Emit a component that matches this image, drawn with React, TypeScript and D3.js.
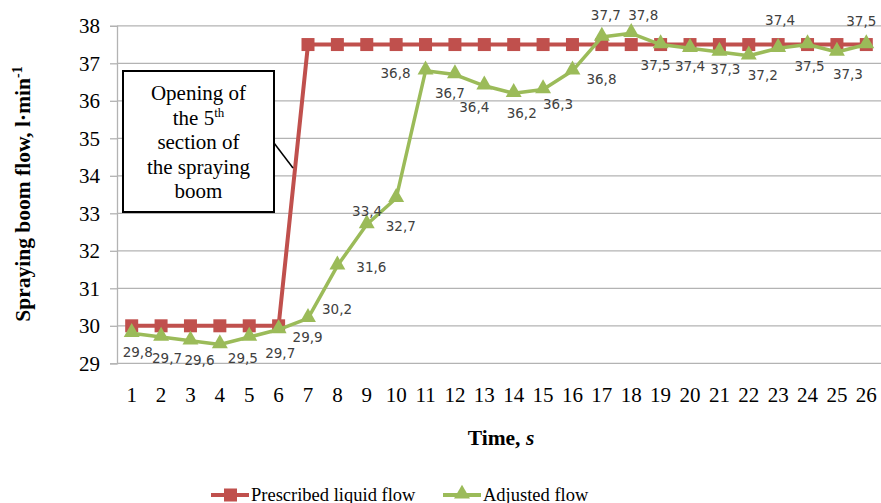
import * as d3 from "d3"
import { useRef, useEffect } from "react"

// time, s
const seconds = d3.range(1, 27)
// prescribed liquid flow, l/min
const prescribed = [30, 30, 30, 30, 30, 30, 37.5, 37.5, 37.5, 37.5, 37.5, 37.5, 37.5, 37.5, 37.5, 37.5, 37.5, 37.5, 37.5, 37.5, 37.5, 37.5, 37.5, 37.5, 37.5, 37.5]
// adjusted flow, l/min
const adjusted = [29.8, 29.7, 29.6, 29.5, 29.7, 29.9, 30.2, 31.6, 32.7, 33.4, 36.8, 36.7, 36.4, 36.2, 36.3, 36.8, 37.7, 37.8, 37.5, 37.4, 37.3, 37.2, 37.4, 37.5, 37.3, 37.5]
const yTicks = [29, 30, 31, 32, 33, 34, 35, 36, 37, 38]
const annotationLines = ["Opening of", "the 5|th", "section of", "the spraying", "boom"]

// where each data label of the adjusted flow sits, relative to its point
const labelOffsets: [number, number][] = [
  [6, 19], [6, 21], [9, 19], [23, 14], [31, 16], [29, 8], [29, -9], [34, 1], [34, 2], [-29, 13],
  [-30, 2], [-5, 19], [-10, 21], [8, 20], [15, 15], [29, 8], [4, -22], [12, -18], [-5, 21], [0, 18],
  [6, 17], [14, 19], [2, -28], [2, 22], [11, 22], [-5, -23],
]

const RED = "#C0504D"
const GREEN = "#9BBB59"
const GRID = "#B3B3B3"
const SERIF = "'Liberation Serif', 'Times New Roman', serif"
const SANS = "'DejaVu Sans', Verdana, sans-serif"

export default function App() {
  const svgRef = useRef<SVGSVGElement>(null)

  useEffect(() => {
    if (!svgRef.current) return
    const width = 881
    const height = 503
    const margin = { top: 26, right: 0, bottom: 140, left: 117 }

    const svg = d3.select(svgRef.current)
    svg.selectAll("*").remove()
    svg.attr("width", width).attr("height", height)

    const x = d3
      .scaleBand<number>()
      .domain(seconds)
      .range([margin.left, width - margin.right])
    const cx = (d: number) => (x(d) || 0) + x.bandwidth() / 2

    const y = d3
      .scaleLinear()
      .domain([29, 38])
      .range([height - margin.bottom + 0.3, margin.top - 0.2])

    // grid
    svg
      .append("g")
      .selectAll("line")
      .data(yTicks)
      .enter()
      .append("line")
      .attr("x1", margin.left)
      .attr("x2", width)
      .attr("y1", (d) => y(d))
      .attr("y2", (d) => y(d))
      .attr("stroke", GRID)
      .attr("stroke-width", 1.3)

    // y axis
    svg
      .append("g")
      .attr("transform", `translate(${margin.left},0)`)
      .call(d3.axisLeft(y).tickValues(yTicks).tickSize(7).tickPadding(10).tickFormat(d3.format("d")))
      .call((g) => g.select(".domain").attr("stroke", GRID).attr("stroke-width", 1.3))
      .call((g) => g.selectAll(".tick line").attr("stroke", GRID).attr("stroke-width", 1.3))
      .call((g) =>
        g
          .selectAll("text")
          .style("font-size", "21px")
          .style("font-family", SERIF)
          .style("fill", "#000"),
      )

    // x axis labels
    svg
      .append("g")
      .attr("transform", `translate(0,${y(29)})`)
      .call(d3.axisBottom(x).tickSize(0).tickPadding(24))
      .call((g) => g.select(".domain").remove())
      .call((g) =>
        g
          .selectAll("text")
          .style("font-size", "21px")
          .style("font-family", SERIF)
          .style("fill", "#000"),
      )

    // axis titles
    const yTitle = svg
      .append("text")
      .attr("transform", "translate(30,194) rotate(-90)")
      .attr("text-anchor", "middle")
      .style("font-family", SERIF)
      .style("font-size", "21.5px")
      .style("font-weight", "bold")
    yTitle.append("tspan").text("Spraying boom flow, l·min")
    yTitle.append("tspan").attr("dy", -8).style("font-size", "14px").text("-1")

    const xTitle = svg
      .append("text")
      .attr("x", 501)
      .attr("y", 445)
      .attr("text-anchor", "middle")
      .style("font-family", SERIF)
      .style("font-size", "21.5px")
      .style("font-weight", "bold")
    xTitle.append("tspan").text("Time, ")
    xTitle.append("tspan").style("font-style", "italic").text("s")

    // prescribed flow
    const line = d3
      .line<number>()
      .x((_, i) => cx(seconds[i]))
      .y((d) => y(d))

    svg
      .append("path")
      .datum(prescribed)
      .attr("fill", "none")
      .attr("stroke", RED)
      .attr("stroke-width", 4)
      .attr("d", line)

    svg
      .append("g")
      .selectAll("rect")
      .data(prescribed)
      .enter()
      .append("rect")
      .attr("x", (_, i) => cx(seconds[i]) - 6.5)
      .attr("y", (d) => y(d) - 6.5)
      .attr("width", 13)
      .attr("height", 13)
      .attr("fill", RED)

    // adjusted flow
    svg
      .append("path")
      .datum(adjusted)
      .attr("fill", "none")
      .attr("stroke", GREEN)
      .attr("stroke-width", 3.5)
      .attr("stroke-linejoin", "round")
      .attr("d", line)

    const tri = d3.symbol().type(d3.symbolTriangle).size(110)
    svg
      .append("g")
      .selectAll("path")
      .data(adjusted)
      .enter()
      .append("path")
      .attr("d", tri)
      .attr("transform", (d, i) => `translate(${cx(seconds[i])},${y(d) - 1})`)
      .attr("fill", GREEN)

    svg
      .append("g")
      .selectAll("text")
      .data(adjusted)
      .enter()
      .append("text")
      .attr("x", (_, i) => cx(seconds[i]) + labelOffsets[i][0])
      .attr("y", (d, i) => y(d) + labelOffsets[i][1])
      .attr("dy", "0.35em")
      .attr("text-anchor", "middle")
      .style("font-family", SANS)
      .style("font-size", "13.5px")
      .style("fill", "#404040")
      .text((d) => d3.format(".1f")(d).replace(".", ","))

    // annotation
    const box = { x: 123, y: 71, w: 151, h: 141 }
    svg
      .append("line")
      .attr("x1", box.x + box.w)
      .attr("y1", 143)
      .attr("x2", 293)
      .attr("y2", 168)
      .attr("stroke", "#000")
      .attr("stroke-width", 1.5)
    svg
      .append("rect")
      .attr("x", box.x)
      .attr("y", box.y)
      .attr("width", box.w)
      .attr("height", box.h)
      .attr("fill", "#fff")
      .attr("stroke", "#000")
      .attr("stroke-width", 2)
    const note = svg
      .append("text")
      .attr("text-anchor", "middle")
      .style("font-family", SERIF)
      .style("font-size", "21px")
    annotationLines.forEach((l, i) => {
      const [main, sup] = l.split("|")
      const t = note
        .append("tspan")
        .attr("x", box.x + box.w / 2)
        .attr("y", 100 + i * 24.5)
        .text(main)
      if (sup) {
        t.append("tspan").attr("dy", -8).style("font-size", "13px").text(sup)
      }
    })

    // legend
    const legend = svg.append("g").attr("transform", "translate(0,495)")
    const items = [
      { name: "Prescribed liquid flow", color: RED, x: 211, marker: "square" },
      { name: "Adjusted flow", color: GREEN, x: 443, marker: "triangle" },
    ]
    items.forEach((it) => {
      legend
        .append("line")
        .attr("x1", it.x)
        .attr("x2", it.x + 38)
        .attr("stroke", it.color)
        .attr("stroke-width", 4)
      if (it.marker === "square") {
        legend
          .append("rect")
          .attr("x", it.x + 13)
          .attr("y", -6.5)
          .attr("width", 13)
          .attr("height", 13)
          .attr("fill", it.color)
      } else {
        legend
          .append("path")
          .attr("d", tri)
          .attr("transform", `translate(${it.x + 19},-1)`)
          .attr("fill", it.color)
      }
      legend
        .append("text")
        .attr("x", it.x + 40)
        .attr("y", 6)
        .style("font-family", SERIF)
        .style("font-size", "18.5px")
        .text(it.name)
    })
  }, [])

  return (
    <div style={{ position: "absolute", left: 0, top: 0, background: "#fff" }}>
      <svg ref={svgRef}></svg>
    </div>
  )
}
